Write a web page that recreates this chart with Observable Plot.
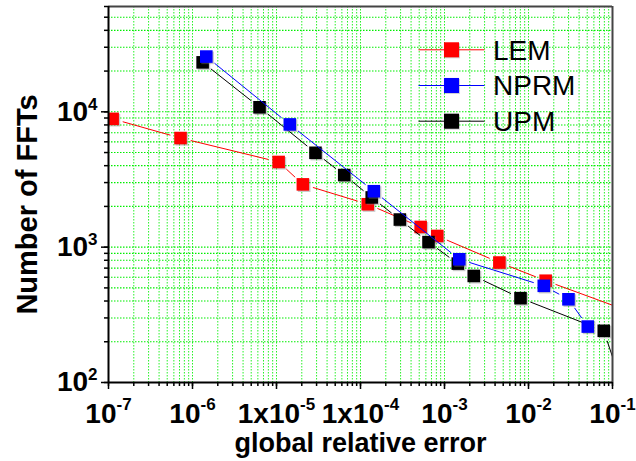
<!DOCTYPE html>
<html><head><meta charset="utf-8">
<script src="https://cdn.jsdelivr.net/npm/d3@7"></script>
<script src="https://cdn.jsdelivr.net/npm/@observablehq/plot@0.6"></script>
<style>html,body{margin:0;padding:0;background:#fff;}</style>
</head><body><div id="chart"></div>
<script>
// ---- data ----
const seriesNames = ["LEM", "NPRM", "UPM"];
const seriesColors = ["#ff0000", "#0000ff", "#000000"];

const lemError = [1.12e-7, 7.2e-7, 1.06e-5, 2.06e-5, 1.22e-4, 5.2e-4, 8.2e-4, 4.5e-3, 1.6e-2, 2.0e-1];
const lemFFTs  = [8870, 6400, 4260, 2910, 2075, 1410, 1210, 770, 565, 318];

const nprmError = [1.46e-6, 1.44e-5, 1.44e-4, 1.5e-3, 1.52e-2, 2.99e-2, 5.08e-2];
const nprmFFTs  = [25600, 8070, 2590, 814, 518, 412, 259];

const upmError = [1.32e-6, 6.28e-6, 2.91e-5, 6.4e-5, 1.36e-4, 2.94e-4, 6.45e-4, 1.44e-3, 2.23e-3, 8.03e-3, 7.87e-2, 0.14];
const upmFFTs  = [23200, 10800, 4980, 3410, 2330, 1600, 1090, 756, 613, 420, 241, 83];

const xTickValues = [1e-7, 1e-6, 1e-5, 1e-4, 1e-3, 1e-2, 1e-1];
const xTickLabels = ["10^-7", "10^-6", "1x10^-5", "1x10^-4", "10^-3", "10^-2", "10^-1"];
const yTickValues = [1e2, 1e3, 1e4];
const yTickLabels = ["10^2", "10^3", "10^4"];
const xTitle = "global relative error";
const yTitle = "Number of FFTs";

// ---- layout ----
const W = 636, H = 461, mL = 108, mR = 24, mT = 6, mB = 79;
const xDomain = [1e-7, 1e-1], yDomain = [100, 6e4];
const FONT = "'Liberation Sans', Arial, Helvetica, sans-serif";

function logTicks(lo, hi) {
  const out = [];
  for (let e = Math.floor(Math.log10(lo)); e <= Math.ceil(Math.log10(hi)); e++)
    for (let k = 1; k < 10; k++) {
      const v = k * Math.pow(10, e);
      if (v >= lo * 0.999 && v <= hi * 1.001) out.push(v);
    }
  return out;
}
const minorX = logTicks(xDomain[0], xDomain[1]);
const minorY = logTicks(yDomain[0], yDomain[1]);

const sx = Plot.scale({x: {type: "log", domain: xDomain, range: [mL, W - mR]}});
const sy = Plot.scale({y: {type: "log", domain: yDomain, range: [H - mB, mT]}});

const rowsOf = (xs, ys) => xs.map((v, i) => ({x: v, y: ys[i]}));
const series = [
  {name: seriesNames[0], color: seriesColors[0], rows: rowsOf(lemError, lemFFTs)},
  {name: seriesNames[2], color: seriesColors[2], rows: rowsOf(upmError, upmFFTs)},
  {name: seriesNames[1], color: seriesColors[1], rows: rowsOf(nprmError, nprmFFTs)}
];

// line segments with a small gap around each marker (Origin style)
function gapped(rows, gap) {
  const segs = [];
  for (let i = 0; i < rows.length - 1; i++) {
    const ax = sx.apply(rows[i].x), ay = sy.apply(rows[i].y);
    const bx = sx.apply(rows[i + 1].x), by = sy.apply(rows[i + 1].y);
    const dx = bx - ax, dy = by - ay, len = Math.hypot(dx, dy);
    if (len <= 2 * gap) continue;
    const ux = dx / len, uy = dy / len;
    segs.push({
      x1: sx.invert(ax + ux * gap), y1: sy.invert(ay + uy * gap),
      x2: sx.invert(bx - ux * gap), y2: sy.invert(by - uy * gap)
    });
  }
  return segs;
}

const marks = [
  Plot.gridX({ticks: minorX, stroke: "#00ee00", strokeOpacity: 0.85, strokeDasharray: "1.5,1.5", strokeWidth: 1}),
  Plot.gridY({ticks: minorY, stroke: "#00ee00", strokeOpacity: 1, strokeDasharray: "1.5,1.5", strokeWidth: 1.1}),
  Plot.axisX({ticks: minorX, tickSize: 4, tickFormat: () => "", label: null, strokeWidth: 1.5}),
  Plot.axisX({ticks: xTickValues, tickSize: 7, tickPadding: 14, label: null, strokeWidth: 1.5,
    tickFormat: d => xTickLabels[xTickValues.indexOf(d)], fontSize: 28, fontWeight: "bold"}),
  Plot.axisY({ticks: minorY, tickSize: 4, tickFormat: () => "", label: null, strokeWidth: 1.5}),
  Plot.axisY({ticks: yTickValues, tickSize: 7, tickPadding: 4, label: null, strokeWidth: 1.5,
    tickFormat: d => yTickLabels[yTickValues.indexOf(d)], fontSize: 28, fontWeight: "bold"})
];

for (const s of series) {
  marks.push(Plot.link(gapped(s.rows, 10.5), {x1: "x1", y1: "y1", x2: "x2", y2: "y2", stroke: s.color, strokeWidth: 1, clip: true}));
  marks.push(Plot.dot(s.rows, {x: "x", y: "y", symbol: "square", r: 7.1, fill: "#777", fillOpacity: 0.4, dx: 1.3, dy: 1.3, clip: true}));
  marks.push(Plot.dot(s.rows, {x: "x", y: "y", symbol: "square", r: 7.1, fill: s.color, clip: true}));
}

// frame
marks.push(Plot.ruleX([xDomain[1]], {stroke: "#444", strokeWidth: 2}));
marks.push(Plot.ruleY([yDomain[1]], {stroke: "#444", strokeWidth: 2}));
marks.push(Plot.ruleX([xDomain[0]], {stroke: "#000", strokeWidth: 2}));
marks.push(Plot.ruleY([yDomain[0]], {stroke: "#000", strokeWidth: 2}));

// legend
const hline = {draw(ctx) { ctx.moveTo(-33, 0); ctx.lineTo(33, 0); }};
seriesNames.forEach((name, i) => {
  const rowY = 49.3 - mT + i * 35.7;
  marks.push(Plot.dot([0], {frameAnchor: "top-left", dx: 451 - mL, dy: rowY, symbol: hline, fill: "none", stroke: seriesColors[i], strokeWidth: 1}));
  marks.push(Plot.dot([0], {frameAnchor: "top-left", dx: 451 - mL + 1, dy: rowY + 1, symbol: "square", r: 8.5, fill: "#777", fillOpacity: 0.3}));
  marks.push(Plot.dot([0], {frameAnchor: "top-left", dx: 451 - mL, dy: rowY, symbol: "square", r: 8.5, fill: seriesColors[i]}));
  marks.push(Plot.text([name], {frameAnchor: "top-left", text: d => d, dx: 492.5 - mL, dy: rowY + 1,
    textAnchor: "start", lineAnchor: "middle", fontSize: 28, fill: "#000"}));
});

// axis titles
marks.push(Plot.text([xTitle], {frameAnchor: "bottom", text: d => d, dy: 60.5, textAnchor: "middle", lineAnchor: "middle", fontSize: 27, fontWeight: "bold"}));
marks.push(Plot.text([yTitle], {frameAnchor: "left", text: d => d, rotate: -90, dx: 27.7 - mL, dy: 10, textAnchor: "middle", lineAnchor: "middle", fontSize: 29, fontWeight: "bold"}));

const chart = Plot.plot({
  width: W, height: H,
  marginLeft: mL, marginRight: mR, marginTop: mT, marginBottom: mB,
  x: {type: "log", domain: xDomain},
  y: {type: "log", domain: yDomain},
  style: {fontFamily: FONT, background: "#fff", color: "#000", overflow: "visible"},
  marks
});

// superscript exponents in the tick labels
chart.querySelectorAll("text").forEach(t => {
  const s = t.textContent;
  const k = s.indexOf("^");
  if (k < 0) return;
  const isX = xTickLabels.includes(s);
  t.textContent = s.slice(0, k);
  const ts = document.createElementNS("http://www.w3.org/2000/svg", "tspan");
  ts.setAttribute("dy", isX ? "-13" : "-11");
  ts.setAttribute("font-size", "17");
  ts.textContent = s.slice(k + 1);
  t.appendChild(ts);
});

document.getElementById("chart").appendChild(chart);
</script>
</body></html>
